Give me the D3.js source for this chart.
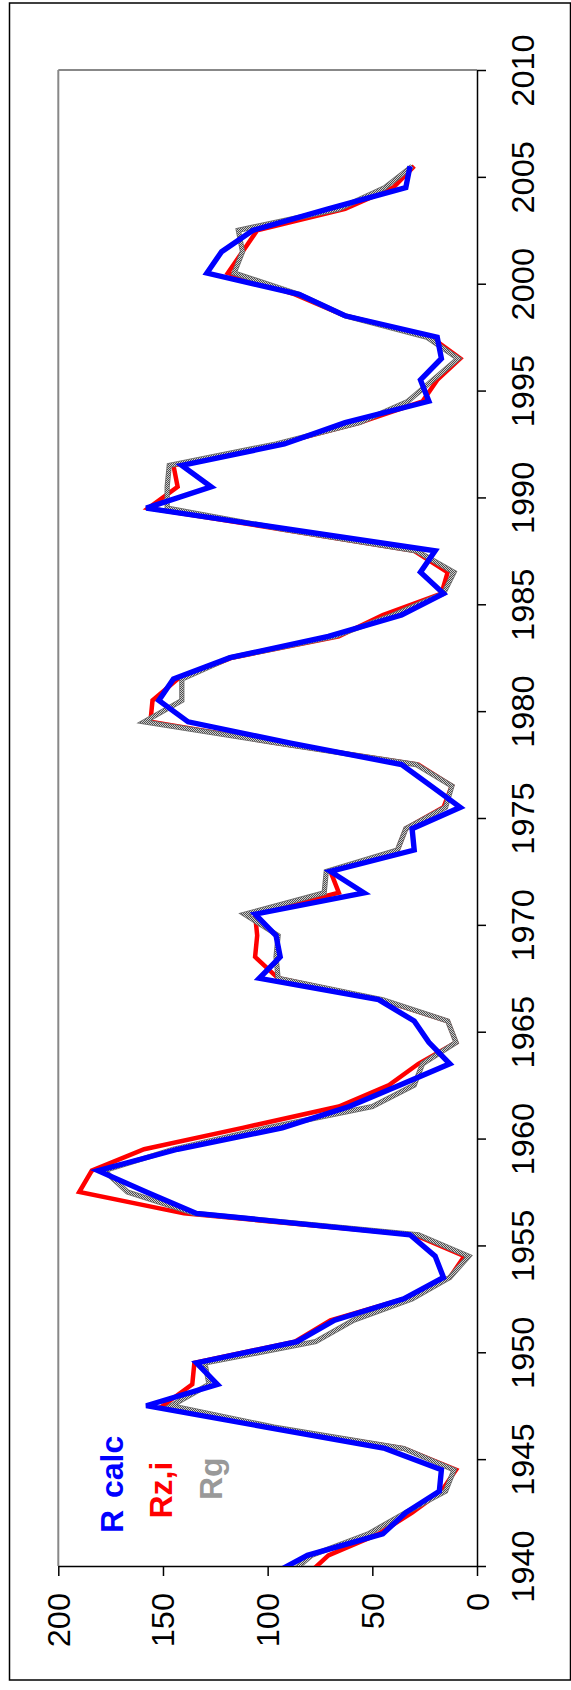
<!DOCTYPE html>
<html>
<head>
<meta charset="utf-8">
<script src="https://cdn.jsdelivr.net/npm/d3@7"></script>
<style>
  body { margin: 0; background: #fff; }
  svg { display: block; font-family: "Liberation Sans", Arial, sans-serif; }
</style>
</head>
<body>
<div id="chart"></div>
<script>

// data points sit in the middle of each year
var years = [1939.5, 1940.5, 1941.5, 1942.5, 1943.5, 1944.5, 1945.5, 1946.5, 1947.5, 1948.5,
             1949.5, 1950.5, 1951.5, 1952.5, 1953.5, 1954.5, 1955.5, 1956.5, 1957.5, 1958.5,
             1959.5, 1960.5, 1961.5, 1962.5, 1963.5, 1964.5, 1965.5, 1966.5, 1967.5, 1968.5,
             1969.5, 1970.5, 1971.5, 1972.5, 1973.5, 1974.5, 1975.5, 1976.5, 1977.5, 1978.5,
             1979.5, 1980.5, 1981.5, 1982.5, 1983.5, 1984.5, 1985.5, 1986.5, 1987.5, 1988.5,
             1989.5, 1990.5, 1991.5, 1992.5, 1993.5, 1994.5, 1995.5, 1996.5, 1997.5, 1998.5,
             1999.5, 2000.5, 2001.5, 2002.5, 2003.5, 2004.5, 2005.5];

// R calc (blue)
var rCalc = [100, 81, 45, 34, 18, 17, 44, 101, 158, 124,
             134, 86, 68, 35, 16, 20, 32, 134, 158, 181,
             143, 93, 61, 37, 13, 23, 30, 47, 104, 94,
             96, 106, 54, 70, 30, 31, 8, 22, 36, 89,
             138, 152, 145, 118, 71, 36, 16, 27, 20, 89,
             158, 127, 141, 92, 63, 23, 27, 17, 19, 63,
             85, 129, 122, 107, 71, 34, 32];

// Rz,i (red)
var rzi = [82, 71, 47, 31, 17, 10, 35, 99, 150, 136,
           135, 87, 70, 35, 13, 6, 30, 140, 190, 184,
           159, 112, 66, 42, 28, 10, 14, 46, 95, 106,
           105, 106, 66, 70, 38, 34, 16, 12, 28, 95,
           156, 155, 143, 117, 66, 45, 17, 14, 30, 93,
           157, 143, 145, 95, 56, 26, 19, 8, 22, 63,
           87, 119, 112, 105, 63, 40, 30];

// Rg (grey)
var rg = [91, 79, 52, 34, 15, 11, 35, 97, 146, 128,
          130, 77, 59, 31, 13, 4, 28, 135, 167, 178,
          145, 100, 50, 30, 26, 10, 14, 45, 95, 96,
          95, 111, 73, 72, 38, 34, 15, 12, 29, 95,
          159, 141, 141, 118, 68, 40, 16, 11, 29, 92,
          148, 148, 147, 96, 56, 33, 21, 9, 24, 63,
          85, 116, 112, 114, 66, 44, 31];

var yearTicks = [1940, 1945, 1950, 1955, 1960, 1965, 1970, 1975, 1980, 1985, 1990, 1995, 2000, 2005, 2010];
var valueTicks = [0, 50, 100, 150, 200];

window.onload = function () {
  draw_chart();
};

function draw_chart() {

  var width = 571, height = 1690;

  // the chart is turned a quarter: years run upwards, values run to the left
  var plot = {left: 58.3, right: 477, top: 70, bottom: 1566};

  var svg = d3.select("#chart")
              .append("svg")
                .attr("width", width)
                .attr("height", height);

  var defs = svg.append("defs");

  defs.append("clipPath")
      .attr("id", "plot_clip")
    .append("rect")
      .attr("x", plot.left)
      .attr("y", plot.top)
      .attr("width", plot.right - plot.left)
      .attr("height", plot.bottom - plot.top);

  // dithered grey like the original Rg line
  var pat = defs.append("pattern")
      .attr("id", "dither")
      .attr("patternUnits", "userSpaceOnUse")
      .attr("width", 2)
      .attr("height", 2);
  pat.append("rect").attr("width", 2).attr("height", 2).attr("fill", "#d0d0d0");
  pat.append("rect").attr("width", 1).attr("height", 1).attr("fill", "#4d4d4d");
  pat.append("rect").attr("x", 1).attr("y", 1).attr("width", 1).attr("height", 1).attr("fill", "#4d4d4d");

  // outer frame
  svg.append("rect")
      .attr("x", 9.5)
      .attr("y", 3)
      .attr("width", 561)
      .attr("height", 1677)
      .attr("fill", "none")
      .attr("stroke", "#000")
      .attr("stroke-width", 1.5);

  var year_scale = d3.scaleLinear()
      .domain([1940, 2010])
      .range([plot.bottom, plot.top]);

  var value_scale = d3.scaleLinear()
      .domain([0, 200])
      .range([plot.right, plot.left]);

  // grey top and left border of the plot area
  svg.append("line")
      .attr("x1", value_scale(200)).attr("x2", value_scale(0))
      .attr("y1", year_scale(2010)).attr("y2", year_scale(2010))
      .attr("stroke", "#888").attr("stroke-width", 2);
  svg.append("line")
      .attr("x1", value_scale(200)).attr("x2", value_scale(200))
      .attr("y1", year_scale(2010)).attr("y2", year_scale(1940))
      .attr("stroke", "#888").attr("stroke-width", 2);

  // year axis on the right
  var year_axis = svg.append("g")
      .attr("transform", "translate(" + plot.right + ",0)")
      .call(d3.axisRight(year_scale)
              .tickValues(yearTicks)
              .tickSize(9)
              .tickSizeOuter(0)
              .tickFormat(d3.format("d")));

  year_axis.selectAll("text")
      .attr("x", 0)
      .attr("dy", 0)
      .attr("transform", "translate(56.5,0) rotate(-90) scale(1.05,1)")
      .style("text-anchor", "middle")
      .style("font-size", "31px")
      .attr("fill", "#000");

  // value axis at the bottom
  var value_axis = svg.append("g")
      .attr("transform", "translate(0," + plot.bottom + ")")
      .call(d3.axisBottom(value_scale)
              .tickValues(valueTicks)
              .tickSize(10)
              .tickSizeOuter(0));

  value_axis.selectAll("text")
      .attr("y", 0)
      .attr("dy", 0)
      .attr("transform", "translate(11,27) rotate(-90) scale(1.05,1)")
      .style("text-anchor", "end")
      .style("font-size", "31px")
      .attr("fill", "#000");

  svg.selectAll(".domain, .tick line")
      .attr("stroke", "#000")
      .attr("stroke-width", 1.5);

  var line = d3.line()
      .x(function(d) { return value_scale(d.v); })
      .y(function(d) { return year_scale(d.year); });

  function pairs(values) {
    return years.map(function(y, i) { return {year: y, v: values[i]}; });
  }

  var lines = svg.append("g").attr("clip-path", "url(#plot_clip)");

  // red first, grey over it, blue on top
  lines.append("path")
      .attr("d", line(pairs(rzi)))
      .attr("fill", "none")
      .attr("stroke", "#ff0000")
      .attr("stroke-width", 4.5);

  lines.append("path")
      .attr("d", line(pairs(rg)))
      .attr("fill", "none")
      .attr("stroke", "#6e6e6e")
      .attr("stroke-width", 5.2);

  lines.append("path")
      .attr("d", line(pairs(rg)))
      .attr("fill", "none")
      .attr("stroke", "url(#dither)")
      .attr("stroke-width", 3.4);

  lines.append("path")
      .attr("d", line(pairs(rCalc)))
      .attr("fill", "none")
      .attr("stroke", "#0000ff")
      .attr("stroke-width", 5.4);

  // legend labels
  var legend = [
    {text: "R calc", color: "#0000ff", x: 123.3, y: 1533},
    {text: "Rz,i", color: "#ff0000", x: 172.3, y: 1518.5},
    {text: "Rg", color: "#999999", x: 221.7, y: 1500}
  ];

  svg.append("g")
    .selectAll("text")
    .data(legend)
    .enter()
    .append("text")
      .attr("transform", function(d) { return "translate(" + d.x + "," + d.y + ") rotate(-90)"; })
      .attr("fill", function(d) { return d.color; })
      .style("font-size", "32px")
      .style("font-weight", "bold")
      .style("word-spacing", "3px")
      .text(function(d) { return d.text; });
}
</script>
</body>
</html>
